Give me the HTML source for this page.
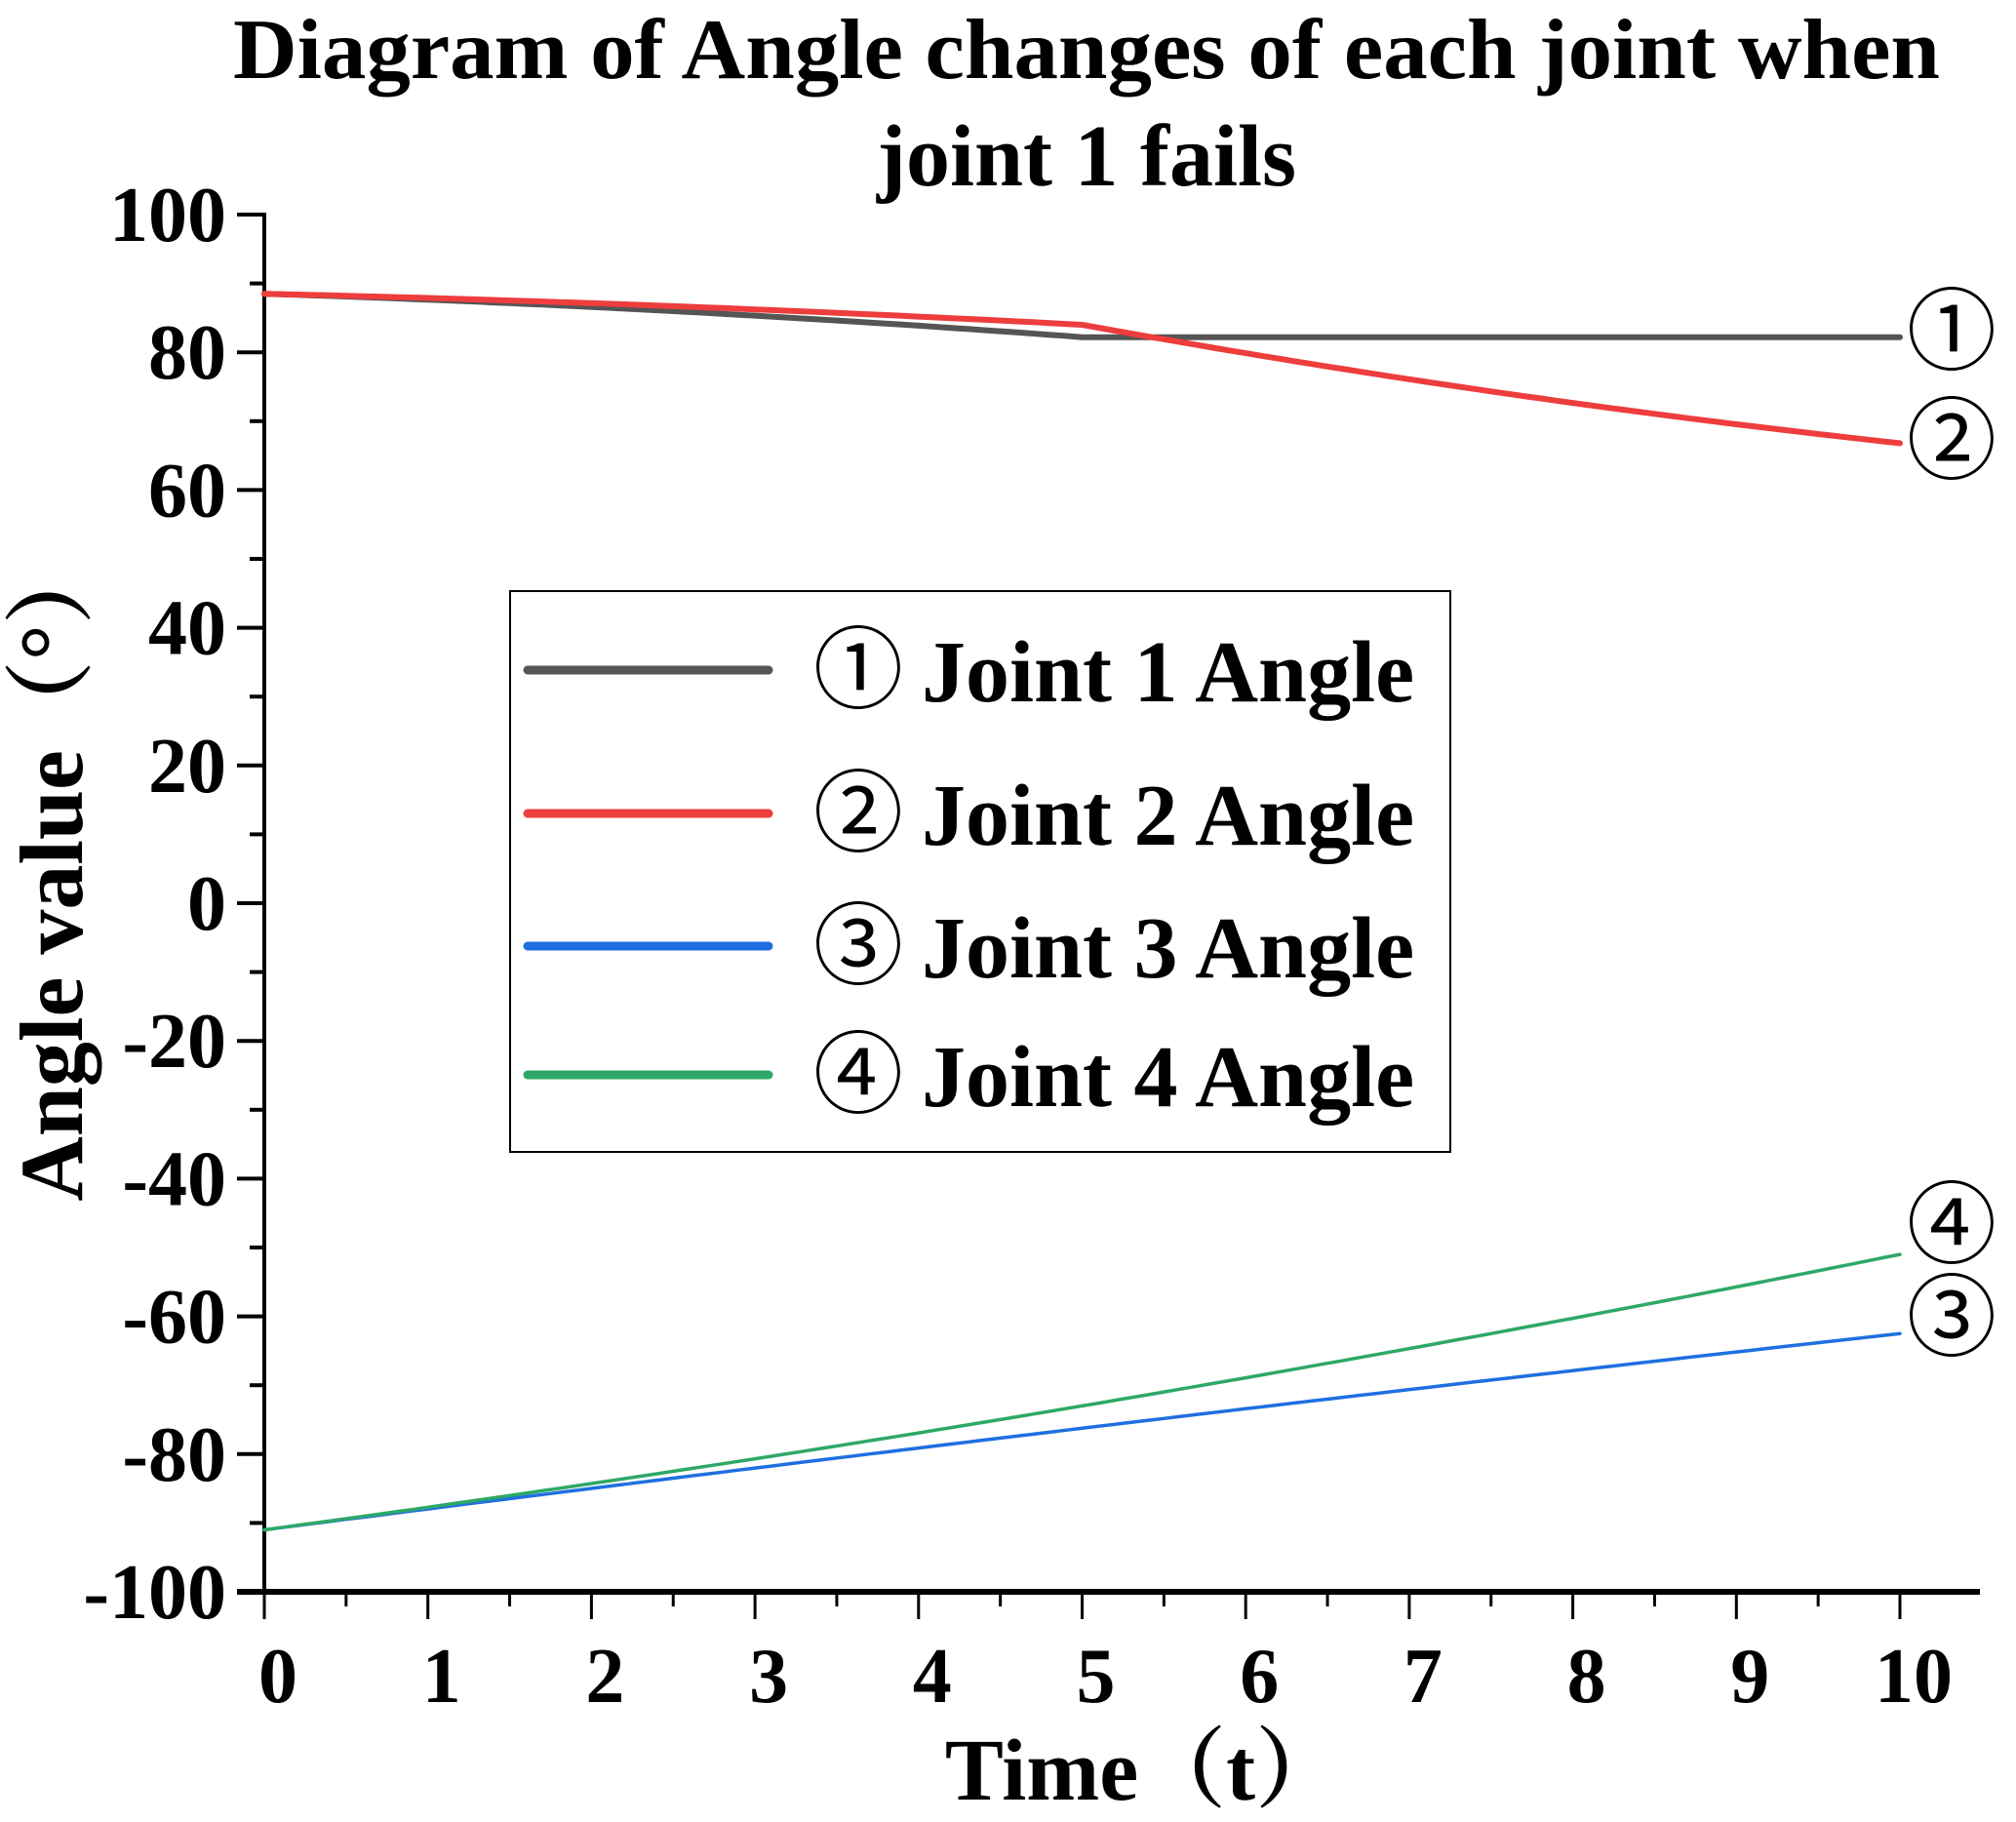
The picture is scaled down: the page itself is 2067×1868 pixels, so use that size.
<!DOCTYPE html>
<html><head><meta charset="utf-8"><style>html,body{margin:0;padding:0;background:#fff}</style></head>
<body>
<svg width="2067" height="1863" viewBox="0 0 2067 1863" xmlns="http://www.w3.org/2000/svg" font-family="'Liberation Serif','Noto Serif CJK SC',serif" font-weight="bold">
<rect width="2067" height="1863" fill="#fff"/>
<text x="1114" y="80" font-size="88" text-anchor="middle" textLength="1750" lengthAdjust="spacingAndGlyphs">Diagram of Angle changes of each joint when</text>
<text x="1114" y="190" font-size="90" text-anchor="middle">joint 1 fails</text>
<g stroke="#000" stroke-width="4" fill="none">
<line x1="271" y1="218" x2="271" y2="1634"/>
<line x1="243" y1="1632" x2="2030" y2="1632" stroke-width="6"/>
</g>
<g id="yt" stroke="#000" stroke-width="4"></g>
<g id="xt" stroke="#000" stroke-width="3"></g>
<g id="yl" font-size="80" text-anchor="end"></g>
<g id="xl" font-size="80" text-anchor="middle"></g>
<text transform="translate(84,890) rotate(-90)" font-size="92" text-anchor="middle" font-family="'Liberation Serif','Noto Serif CJK SC',serif">Angle value（°）</text>
<text x="1173" y="1845" font-size="90" text-anchor="middle" font-family="'Liberation Serif','Noto Serif CJK SC',serif">Time（t）</text>
<g fill="none" stroke-linecap="round" stroke-linejoin="round">
<polyline id="p1" stroke="#555" stroke-width="6"/>
<polyline id="p2" stroke="#ee3d3d" stroke-width="6"/>
<polyline id="p3" stroke="#1f6fe0" stroke-width="3.5"/>
<polyline id="p4" stroke="#2ea866" stroke-width="3.5"/>
</g>
<rect x="523" y="606" width="964" height="575" fill="none" stroke="#000" stroke-width="2"/>
<g stroke-width="9" stroke-linecap="round">
<line x1="541" y1="687" x2="788" y2="687" stroke="#555"/>
<line x1="541" y1="834" x2="788" y2="834" stroke="#ee3d3d"/>
<line x1="541" y1="970" x2="788" y2="970" stroke="#1f6fe0"/>
<line x1="541" y1="1102" x2="788" y2="1102" stroke="#2ea866"/>
</g>
<g font-size="90" font-family="'Liberation Serif',serif">
<text x="945" y="719">Joint 1 Angle</text>
<text x="945" y="866">Joint 2 Angle</text>
<text x="945" y="1002">Joint 3 Angle</text>
<text x="945" y="1134">Joint 4 Angle</text>
</g>
<g font-size="92" font-weight="normal" text-anchor="middle" font-family="'Noto Sans CJK JP',sans-serif">
<text x="880" y="719">①</text>
<text x="880" y="866">②</text>
<text x="880" y="1002">③</text>
<text x="880" y="1134">④</text>
<text x="2001" y="372">①</text>
<text x="2001" y="484">②</text>
<text x="2001" y="1288">④</text>
<text x="2001" y="1383">③</text>
</g>
<script>
var X=t=>271+t*167.7, Y=v=>926-v*7.06;
var ns="http://www.w3.org/2000/svg";
function el(g,tag,a,txt){var e=document.createElementNS(ns,tag);for(var k in a)e.setAttribute(k,a[k]);if(txt!==undefined)e.textContent=txt;document.getElementById(g).appendChild(e);}
for(var v=-100;v<=100;v+=10){var maj=v%20==0;el('yt','line',{x1:271-(maj?28:15),y1:Y(v),x2:271,y2:Y(v)});if(maj)el('yl','text',{x:232,y:Y(v)+27},v);}
for(var t=0;t<=10.01;t+=0.5){var maj=Math.abs(t-Math.round(t))<0.01;el('xt','line',{x1:X(t),y1:1632,x2:X(t),y2:1632+(maj?28:15)});if(maj)el('xl','text',{x:X(t)+14,y:1745},Math.round(t));}
function pts(f){var s=[];for(var t=0;t<=10.001;t+=0.1)s.push(X(t).toFixed(1)+','+Y(f(t)).toFixed(1));return s.join(' ');}
document.getElementById('p1').setAttribute('points',pts(t=>t<5?88.5-6.3*(t/5)*(0.6+0.4*t/5):82.2));
document.getElementById('p2').setAttribute('points',pts(t=>t<5?88.5-4.5*(t/5)*(0.6+0.4*t/5):84-17.2*((t-5)/5)*(1.25-0.25*(t-5)/5)));
document.getElementById('p3').setAttribute('points',pts(t=>-91+3.05*t-0.02*t*t));
document.getElementById('p4').setAttribute('points',pts(t=>-91+3.2*t+0.08*t*t));
</script>
</svg>
</body></html>
